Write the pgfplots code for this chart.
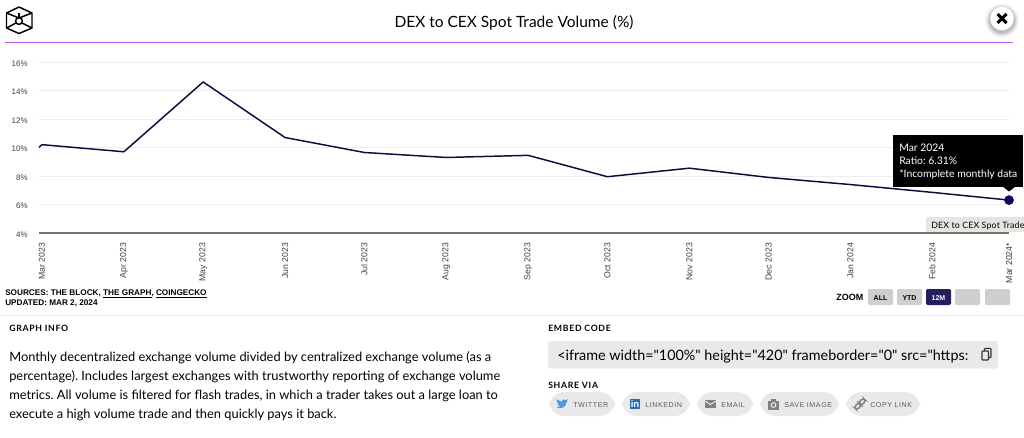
\documentclass[border=0pt]{standalone}
\usepackage{pgfplots}
\pgfplotsset{compat=1.18}
\usepackage{fontspec}
\setmainfont{Lato}
\newfontfamily\hv{Liberation Sans}
\newfontfamily\rawlato[Ligatures=ResetAll]{Lato}
\definecolor{navy}{HTML}{0F0A3C}
\definecolor{btn}{HTML}{CFCFCF}
\definecolor{pill}{HTML}{E9E9E9}
\newcommand{\px}[1]{\fontsize{\dimexpr#1pt*3/4\relax}{\dimexpr#1pt*9/10\relax}\selectfont}
% \T{x}{y}{px size}{text}: left aligned on baseline
\newcommand{\T}[4]{\node[anchor=base west,inner sep=0pt] at (#1,#2) {\px{#3}#4};}
\frenchspacing
\begin{document}
\begin{tikzpicture}
\path[use as bounding box] (0,0) rectangle (768pt,-327.75pt);
\clip (0,0) rectangle (768pt,-327.75pt);
\fill[white] (0,0) rectangle (768pt,-327.75pt);
\begin{axis}[
  at={(29.25pt,-174.75pt)}, anchor=south west,
  scale only axis, width=727.5pt, height=128.25pt,
  xmin=-1.135, xmax=366, ymin=4, ymax=16,
  axis x line=bottom, axis y line=left,
  x axis line style={draw=black!55, line width=1pt, -},
  y axis line style={draw=none, -},
  ytick={4,6,8,10,12,14,16},
  yticklabels={4\%,6\%,8\%,10\%,12\%,14\%,16\%},
  xtick={0,31,61,92,122,153,184,214,245,275,306,337,366},
  xticklabels={Mar 2023,Apr 2023,May 2023,Jun 2023,Jul 2023,Aug 2023,Sep 2023,Oct 2023,Nov 2023,Dec 2023,Jan 2024,Feb 2024,Mar 2024*},
  major tick length=0pt,
  ymajorgrids, major grid style={draw=black!7, line width=0.6pt},
  yticklabel style={font=\hv\px{8}, text=black!75, anchor=east, xshift=-5pt, yshift=-1.1pt},
  xticklabel style={font=\hv\px{8.7}, text=black!75, rotate=90, anchor=east, xshift=-4pt, yshift=0pt},
  clip=false,
]
\addplot[navy, line width=1.1pt, line join=round, mark=none] coordinates {
 (-1.135,10.02) (0,10.2) (31,9.7) (61,14.6) (92,10.7) (122,9.65) (153,9.3) (184,9.45)
 (214,7.95) (245,8.55) (275,7.9) (306,7.4) (337,6.85) (366,6.31)};
\addplot[only marks, mark=*, mark size=3.4pt, mark options={fill=navy!75!blue, draw=navy}] coordinates {(366,6.31)};
\end{axis}
\begin{scope}[x=0.75pt,y=-0.75pt]
% header
\node[anchor=base,inner sep=0pt] at (514,27) {\px{15.5}DEX to CEX Spot Trade Volume (\%)};
\draw[color={rgb,255:red,190;green,95;blue,250}, line width=1pt] (5,42.5) -- (1013,42.5);
% logo
\begin{scope}[black, line width=1.1pt, line join=round]
\draw (19,7) -- (32,13) -- (32,28) -- (19,33.5) -- (6.5,28) -- (6.5,13) -- cycle;
\draw (6.5,13) -- (19,18) -- (32,13);
\draw (19,21) circle[radius=3.4];
\draw (6.5,28) -- (16,23) (32,28) -- (22,23);
\draw (19,18) -- (19,13);
\end{scope}
% close
\foreach \r/\o in {17/0.03,16/0.04,15/0.05,14/0.07,13/0.09}{\fill[black,opacity=\o] (1002,20.5) circle[radius=\r];}
\fill[white] (1002,18.5) circle[radius=11.8];
\draw[black, line width=2.3pt] (997.5,14) -- (1006.5,23) (1006.5,14) -- (997.5,23);
% tooltip
\fill[black] (893,135) rectangle (1023,186.5);
\fill[black] (1002,186) -- (1016,186) -- (1009,191.5) -- cycle;
\begin{scope}[text=white]
\T{899}{151}{10.4}{Mar 2024}
\T{899}{164}{10.4}{Ratio: 6.31\%}
\T{899}{177}{10.4}{*Incomplete monthly data}
\end{scope}
\fill[color={rgb,255:red,232;green,228;blue,224}] (926,217) rectangle (1030,232);
\T{931}{228}{8.8}{\addfontfeatures{LetterSpace=2}DEX to CEX Spot Trade}
% sources
\T{5}{295}{8.2}{\hv\bfseries SOURCES: THE BLOCK, \underline{THE GRAPH}, \underline{COINGECKO}}
\T{5}{305}{8.2}{\hv\bfseries UPDATED: MAR 2, 2024}
% zoom
\T{836}{300}{9}{\hv\bfseries ZOOM}
\foreach \a/\b in {868/893,897/922,955/980,985/1010}{\fill[btn, rounded corners=1pt] (\a,289) rectangle (\b,305);}
\fill[color={rgb,255:red,36;green,31;blue,92}, rounded corners=1pt] (926,289) rectangle (951,305);
\node[inner sep=0pt,anchor=base] at (880.5,300) {\hv\bfseries\px{7}ALL};
\node[inner sep=0pt,anchor=base] at (909.5,300) {\hv\bfseries\px{7}YTD};
\node[inner sep=0pt,anchor=base,text=white] at (938.5,300) {\hv\bfseries\px{7}12M};
% divider
\draw[black!8, line width=1pt] (0,315.5) -- (1024,315.5);
% graph info
\T{9}{331}{8.7}{\bfseries\addfontfeatures{LetterSpace=8}GRAPH INFO}
\T{9}{361}{12.85}{Monthly decentralized exchange volume divided by centralized exchange volume (as a}
\T{9}{380}{12.85}{percentage). Includes largest exchanges with trustworthy reporting of exchange volume}
\T{9}{399}{12.85}{metrics. All volume is filtered for flash trades, in which a trader takes out a large loan to}
\T{9}{418}{12.85}{execute a high volume trade and then quickly pays it back.}
% embed
\T{548}{331}{8.7}{\bfseries\addfontfeatures{LetterSpace=8}EMBED CODE}
\fill[pill, rounded corners=2pt] (548,341) rectangle (998,368.5);
\T{557}{360}{14.35}{\rawlato <iframe width="100\%" height="420" frameborder="0" src="https:}
\draw[black!80, line width=0.8pt, rounded corners=0.5pt] (982,351) rectangle (988.5,360);
\draw[black!80, line width=0.8pt, rounded corners=0.5pt] (984.5,351) -- (984.5,348.5) -- (991,348.5) -- (991,357.5) -- (988.5,357.5);
\T{548}{388}{8.7}{\bfseries\addfontfeatures{LetterSpace=8}SHARE VIA}
% pills
\foreach \a/\b in {549/615,622/690,697/753,760/839,846/920}{\fill[pill, rounded corners=11.5pt] (\a,392) rectangle (\b,416);}
\begin{scope}[text=black!65]
\T{573}{407}{7.1}{\hv\addfontfeatures{LetterSpace=8}TWITTER}
\T{645}{407}{7.1}{\hv\addfontfeatures{LetterSpace=8}LINKEDIN}
\T{721}{407}{7.1}{\hv\addfontfeatures{LetterSpace=8}EMAIL}
\T{784}{407}{7.1}{\hv\addfontfeatures{LetterSpace=8}SAVE IMAGE}
\T{870}{407}{7.1}{\hv\addfontfeatures{LetterSpace=8}COPY LINK}
\end{scope}
% twitter bird (simplified)
\begin{scope}[shift={(556.5,398.5)},xscale=.75,yscale=.8]
\fill[color={rgb,255:red,70;green,155;blue,225}] (0,1) .. controls (3,3) and (5,3) .. (7,4)
  .. controls (7,1) and (10,0) .. (12,2) -- (15,1) -- (13.5,3.5) -- (15,3.5) -- (13,5)
  .. controls (13,11) and (5,14) .. (0,11) .. controls (2,11) and (3,11) .. (5,10)
  .. controls (3,9) and (2,9) .. (2,7) -- (3,7) .. controls (1,6) and (0,4) .. (0,1) -- cycle;
\end{scope}
% linkedin
\fill[color={rgb,255:red,40;green,110;blue,180}] (630,399) rectangle (640,409);
\node[text=white,inner sep=0pt,anchor=base] at (635,407.5) {\hv\bfseries\px{9.5}in};
% email
\fill[black!50] (705,400) rectangle (716,408);
\draw[pill, line width=0.7pt] (705,401) -- (710.5,404.5) -- (716,401);
% camera
\fill[black!50] (768,400.5) rectangle (779,409.5);
\fill[black!50] (771,398.5) rectangle (776,401);
\draw[pill, line width=0.8pt] (773.5,405) circle[radius=2.3];
% link
\begin{scope}[black!50, line width=1.1pt, rotate around={45:(860,404)}]
\draw[rounded corners=2pt] (853.5,402) rectangle (860,406);
\draw[rounded corners=2pt] (860,402) rectangle (866.5,406);
\end{scope}
\end{scope}
\end{tikzpicture}
\end{document}
